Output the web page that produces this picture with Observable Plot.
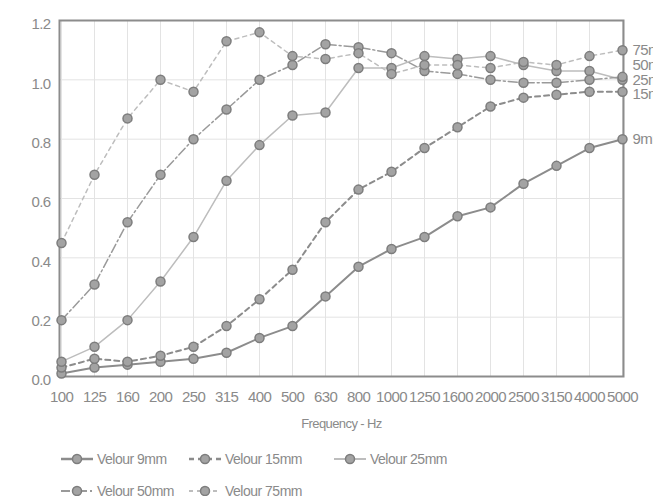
<!DOCTYPE html>
<html>
<head>
<meta charset="utf-8">
<script src="https://cdn.jsdelivr.net/npm/d3@7"></script>
<script src="https://cdn.jsdelivr.net/npm/@observablehq/plot@0.6"></script>
<style>
  html, body { margin: 0; padding: 0; background: #fff; overflow: hidden; }
  #wrap { position: relative; width: 653px; height: 496px; font-family: "Liberation Sans", Arial, sans-serif; color: #8a8a8a; }
  #wrap svg text { letter-spacing: -0.6px; }
  .leg { position: absolute; display: flex; align-items: center; font-size: 14px; letter-spacing: -0.5px; height: 16px; white-space: nowrap; }
  .leg svg { margin-right: 3px; }
</style>
</head>
<body>
<div id="wrap"></div>
<script>
const frequencies = ["100","125","160","200","250","315","400","500","630","800","1000","1250","1600","2000","2500","3150","4000","5000"];
const seriesNames = ["Velour 9mm","Velour 15mm","Velour 25mm","Velour 50mm","Velour 75mm"];
const endLabels = ["9mm","15mm","25mm","50mm","75mm"];
const velour9  = [0.01,0.03,0.04,0.05,0.06,0.08,0.13,0.17,0.27,0.37,0.43,0.47,0.54,0.57,0.65,0.71,0.77,0.80];
const velour15 = [0.03,0.06,0.05,0.07,0.10,0.17,0.26,0.36,0.52,0.63,0.69,0.77,0.84,0.91,0.94,0.95,0.96,0.96];
const velour25 = [0.05,0.10,0.19,0.32,0.47,0.66,0.78,0.88,0.89,1.04,1.04,1.08,1.07,1.08,1.05,1.03,1.03,1.00];
const velour50 = [0.19,0.31,0.52,0.68,0.80,0.90,1.00,1.05,1.12,1.11,1.09,1.03,1.02,1.00,0.99,0.99,1.00,1.01];
const velour75 = [0.45,0.68,0.87,1.00,0.96,1.13,1.16,1.08,1.07,1.09,1.02,1.05,1.05,1.04,1.06,1.05,1.08,1.10];
const yTicks = [0, 0.2, 0.4, 0.6, 0.8, 1.0, 1.2];

const allValues = [velour9, velour15, velour25, velour50, velour75];
const styles = [
  {stroke: "#8c8c8c", width: 2,   dash: null},
  {stroke: "#8c8c8c", width: 2,   dash: "5,4"},
  {stroke: "#bdbdbd", width: 1.5, dash: null},
  {stroke: "#9a9a9a", width: 1.5, dash: "9,3,2,3"},
  {stroke: "#bdbdbd", width: 1.5, dash: "4,4"}
];
const labelDy = [0, 2, 0, -12, 0];

const data = seriesNames.map((s, i) => allValues[i].map((v, j) => ({series: s, freq: frequencies[j], value: v})));
const lastPts = seriesNames.map((s, i) => [{series: s, label: endLabels[i], freq: frequencies[frequencies.length - 1], value: allValues[i][allValues[i].length - 1]}]);

const font = "'Liberation Sans', Arial, sans-serif";

const chart = Plot.plot({
  width: 653,
  height: 440,
  marginLeft: 59,
  marginRight: 30,
  marginTop: 20,
  marginBottom: 64,
  style: {fontFamily: font, fontSize: "15px", color: "#8a8a8a", background: "#fff", overflow: "hidden"},
  x: {type: "point", domain: frequencies, padding: 0},
  y: {domain: [0, 1.2]},
  marks: [
    Plot.gridX(frequencies, {stroke: "#e3e3e3", strokeOpacity: 1, strokeWidth: 1}),
    Plot.gridY(yTicks, {stroke: "#e3e3e3", strokeOpacity: 1, strokeWidth: 1}),
    Plot.axisY(yTicks, {tickSize: 0, tickPadding: 9, tickFormat: d3.format(".1f"), dy: 4, label: null, fontSize: 15, fill: "#8a8a8a"}),
    Plot.axisX(frequencies, {tickSize: 0, tickPadding: 15, label: null, fontSize: 15, fill: "#8a8a8a"}),
    Plot.text(["Frequency - Hz"], {frameAnchor: "bottom", dy: 51, fontSize: 13, fill: "#8a8a8a"}),
    Plot.frame({stroke: "#8c8c8c", strokeWidth: 2}),
    ...data.map((d, i) => Plot.line(d, {x: "freq", y: "value", stroke: styles[i].stroke, strokeWidth: styles[i].width, strokeDasharray: styles[i].dash})),
    ...data.map(d => Plot.dot(d, {x: "freq", y: "value", r: 4.5, fill: "#a3a3a3", stroke: "#7d7d7d", strokeWidth: 1.5})),
    ...lastPts.map((d, i) => Plot.text(d, {x: "freq", y: "value", text: "label", dx: 10, dy: labelDy[i], textAnchor: "start", fontSize: 15, fill: "#8a8a8a"}))
  ]
});
const wrap = document.getElementById("wrap");
wrap.appendChild(chart);

// legend
const legendPos = [[60, 451], [188, 451], [333, 451], [60, 483], [188, 483]];
seriesNames.forEach((s, i) => {
  const item = document.createElement("div");
  item.className = "leg";
  item.style.left = legendPos[i][0] + "px";
  item.style.top = legendPos[i][1] + "px";
  const st = styles[i];
  const ns = "http://www.w3.org/2000/svg";
  const svg = document.createElementNS(ns, "svg");
  svg.setAttribute("width", 34); svg.setAttribute("height", 16);
  const line = document.createElementNS(ns, "line");
  line.setAttribute("x1", 1); line.setAttribute("x2", 33); line.setAttribute("y1", 8); line.setAttribute("y2", 8);
  line.setAttribute("stroke", st.stroke); line.setAttribute("stroke-width", st.width + 0.5);
  if (st.dash) line.setAttribute("stroke-dasharray", st.dash);
  const c = document.createElementNS(ns, "circle");
  c.setAttribute("cx", 17); c.setAttribute("cy", 8); c.setAttribute("r", 4.5);
  c.setAttribute("fill", "#a3a3a3"); c.setAttribute("stroke", "#7d7d7d"); c.setAttribute("stroke-width", 1.5);
  svg.appendChild(line); svg.appendChild(c);
  const t = document.createElement("span");
  t.textContent = s;
  item.appendChild(svg); item.appendChild(t);
  wrap.appendChild(item);
});
</script>
</body>
</html>
